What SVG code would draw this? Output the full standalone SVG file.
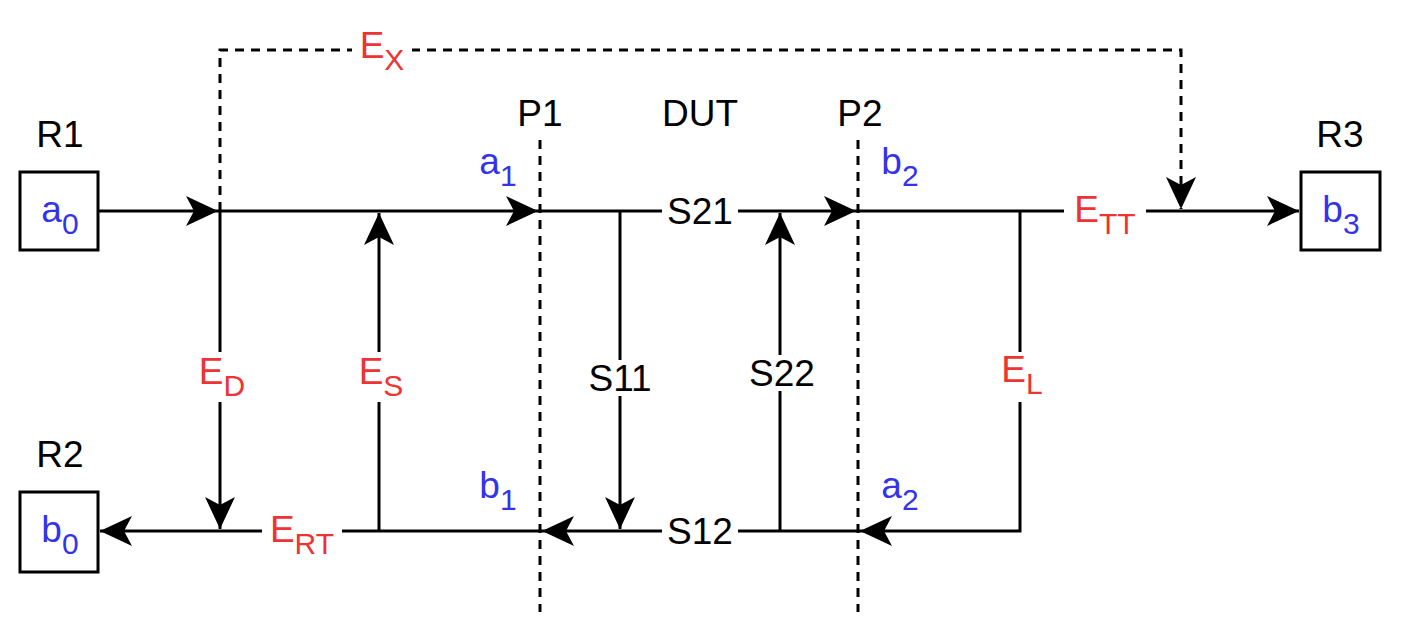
<svg xmlns="http://www.w3.org/2000/svg" width="1408" height="640" viewBox="0 0 1408 640">
<style>
text{font-family:"Liberation Sans",Arial,sans-serif;font-size:37px;text-anchor:middle}
.r{fill:#ee3333}.b{fill:#3333ee}
.sub{font-size:30px}
.ln{stroke:#000;stroke-width:3;fill:none}
.d{stroke:#000;stroke-width:3;fill:none;stroke-dasharray:9 7}
.box{fill:#fff;stroke:#000;stroke-width:3}
.bg{fill:#fff}
</style>
<defs>
<marker id="a" markerUnits="userSpaceOnUse" markerWidth="44" markerHeight="44" viewBox="-34 -22 44 44" refX="0" refY="0" orient="auto">
<path d="M-32,-15 L0,0 L-32,15 L-24,0 Z" fill="#000"/>
</marker>
</defs>
<g id="connectors">
<path class="d" d="M540,140V612"/>
<path class="d" d="M858,140V612"/>
<path class="d" d="M220,211V50H1181V209" marker-end="url(#a)"/>
<path class="ln" d="M98,211H218" marker-end="url(#a)"/>
<path class="ln" d="M218,211H538" marker-end="url(#a)"/>
<path class="ln" d="M538,211H856" marker-end="url(#a)"/>
<path class="ln" d="M856,211H1299" marker-end="url(#a)"/>
<path class="ln" d="M220,211V529" marker-end="url(#a)"/>
<path class="ln" d="M379,531V213" marker-end="url(#a)"/>
<path class="ln" d="M620,211V529" marker-end="url(#a)"/>
<path class="ln" d="M780,531V213" marker-end="url(#a)"/>
<path class="ln" d="M1020,211V531H860" marker-end="url(#a)"/>
<path class="ln" d="M860,531H542" marker-end="url(#a)"/>
<path class="ln" d="M542,531H100" marker-end="url(#a)"/>
</g>
<g id="labels">
<rect class="bg" x="662" y="195" width="76" height="32"/><text x="700" y="224">S21</text>
<rect class="bg" x="662" y="515" width="76" height="32"/><text x="700" y="544">S12</text>
<rect class="bg" x="584" y="360" width="72" height="36"/><text x="620" y="391">S11</text>
<rect class="bg" x="744" y="355" width="72" height="36"/><text x="782" y="386">S22</text>
<rect class="bg" x="1064" y="192" width="82" height="44"/><text x="1105" y="222" class="r">E<tspan class="sub" dy="12">TT</tspan></text>
<rect class="bg" x="262" y="512" width="80" height="44"/><text x="302" y="542" class="r">E<tspan class="sub" dy="12">RT</tspan></text>
<rect class="bg" x="192" y="352" width="60" height="50"/><text x="222" y="384" class="r">E<tspan class="sub" dy="12">D</tspan></text>
<rect class="bg" x="352" y="352" width="60" height="50"/><text x="381" y="384" class="r">E<tspan class="sub" dy="12">S</tspan></text>
<rect class="bg" x="994" y="352" width="60" height="50"/><text x="1022" y="382" class="r">E<tspan class="sub" dy="12">L</tspan></text>
<rect class="bg" x="352" y="28" width="60" height="50"/><text x="382" y="58" class="r">E<tspan class="sub" dy="12">X</tspan></text>
<text x="540" y="126">P1</text><text x="700" y="126">DUT</text><text x="860" y="126">P2</text>
<text x="498" y="174" class="b">a<tspan class="sub" dy="12">1</tspan></text>
<text x="498" y="498" class="b">b<tspan class="sub" dy="12">1</tspan></text>
<text x="900" y="174" class="b">b<tspan class="sub" dy="12">2</tspan></text>
<text x="900" y="498" class="b">a<tspan class="sub" dy="12">2</tspan></text>
</g>
<g id="R1"><text x="60" y="147">R1</text><rect class="box" x="20" y="172" width="78" height="78"/><text x="60" y="222" class="b">a<tspan class="sub" dy="12">0</tspan></text></g>
<g id="R2"><text x="60" y="467">R2</text><rect class="box" x="20" y="492" width="78" height="80"/><text x="60" y="542" class="b">b<tspan class="sub" dy="12">0</tspan></text></g>
<g id="R3"><text x="1340" y="147">R3</text><rect class="box" x="1301" y="172" width="79" height="78"/><text x="1341" y="222" class="b">b<tspan class="sub" dy="12">3</tspan></text></g>
</svg>
